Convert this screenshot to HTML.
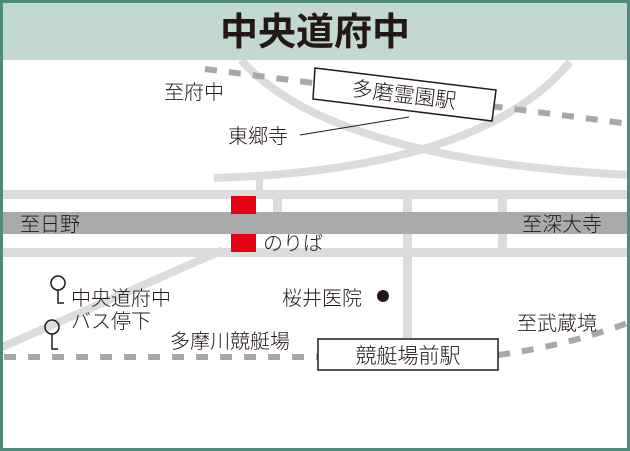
<!DOCTYPE html>
<html><head><meta charset="utf-8"><style>
html,body{margin:0;padding:0;background:#fff}
svg{display:block}
text{font-family:"Liberation Sans","Noto Sans CJK JP",sans-serif;fill:#231815;font-weight:300}
</style></head><body>
<svg width="630" height="451" viewBox="0 0 630 451" xmlns="http://www.w3.org/2000/svg">
<rect x="0" y="0" width="630" height="451" fill="#fff"/>
<g fill="none" stroke="#dcdcdc" stroke-width="8">
<path d="M241,60 Q330,160 630,175"/>
<path d="M570,62 Q480,170 214,178"/>
<path d="M0,348 L223,250"/>
</g>
<g fill="#dcdcdc">
<rect x="256" y="178" width="7" height="14"/>
<rect x="3" y="190" width="624" height="9"/>
<rect x="3" y="248" width="624" height="9"/>
<rect x="273" y="199" width="9" height="13"/>
<rect x="403" y="199" width="9" height="13"/>
<rect x="498" y="199" width="9" height="13"/>
<rect x="403" y="234" width="9" height="104"/>
<rect x="498" y="234" width="9" height="14"/>
</g>
<rect x="3" y="212" width="624" height="22" fill="#aaaaaa"/>
<g fill="none" stroke="#a8a8a8" stroke-width="6" stroke-dasharray="12,12">
<path d="M205,69 L630,124"/>
<path d="M4,357 L318,357"/>
<path d="M498,355 Q570,345 630,322"/>
</g>
<rect x="3" y="3" width="624" height="57" fill="#c2d8d0"/>
<text x="315" y="45" font-size="38" style="font-weight:bold" text-anchor="middle">中央道府中</text>
<rect x="1.5" y="1.5" width="627" height="448" fill="none" stroke="#4d8b7a" stroke-width="3"/>
<rect x="231" y="196" width="25" height="18" fill="#e60012"/>
<rect x="231" y="234" width="25" height="18" fill="#e60012"/>
<text x="263" y="250" font-size="20">のりば</text>
<polygon points="315,68 496,90 492,121 313,99" fill="#fff" stroke="#231815" stroke-width="1.5"/>
<text x="404" y="102" font-size="21" text-anchor="middle" transform="rotate(7 404 95)">多磨霊園駅</text>
<rect x="318" y="339" width="180" height="31" fill="#fff" stroke="#231815" stroke-width="1.5"/>
<text x="408" y="363" font-size="21" text-anchor="middle">競艇場前駅</text>
<line x1="300" y1="135" x2="409" y2="117" stroke="#231815" stroke-width="1"/>
<g font-size="20">
<text x="164" y="99">至府中</text>
<text x="228" y="143">東郷寺</text>
<text x="20" y="231">至日野</text>
<text x="522" y="231">至深大寺</text>
<text x="282" y="305">桜井医院</text>
<text x="71" y="305">中央道府中</text>
<text x="71" y="328">バス停下</text>
<text x="170" y="348">多摩川競艇場</text>
<text x="517" y="330">至武蔵境</text>
</g>
<circle cx="383" cy="296" r="6" fill="#231815"/>
<g fill="none" stroke="#231815" stroke-width="1.5">
<circle cx="58" cy="283" r="7"/>
<path d="M58,290 V303 H64"/>
<circle cx="52" cy="327" r="7"/>
<path d="M52,334 V349 H58"/>
</g>
</svg>
</body></html>
